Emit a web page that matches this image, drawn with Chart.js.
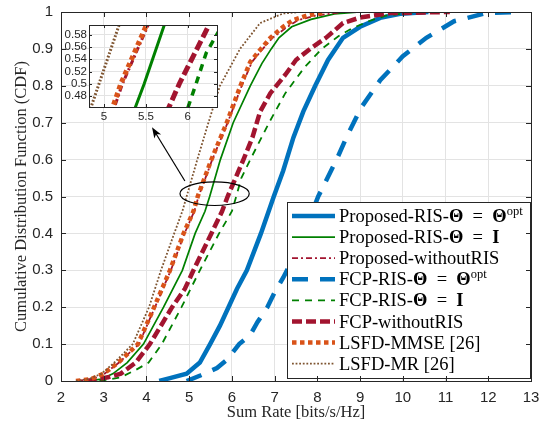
<!DOCTYPE html>
<html>
<head>
<meta charset="utf-8">
<script src="https://cdn.jsdelivr.net/npm/chart.js@4.4.0/dist/chart.umd.min.js"></script>
<style>
  html, body { margin: 0; padding: 0; background: #fff; }
  #wrap { position: relative; width: 541px; height: 426px; }
  #main { position: absolute; left: 0; top: 0; }
  #zoom { position: absolute; left: 55px; top: 19px; }
</style>
</head>
<body>
<div id="wrap">
  <canvas id="main" width="541" height="426" style="width:541px;height:426px"></canvas>
  <canvas id="zoom" width="168" height="105" style="width:168px;height:105px"></canvas>
</div>
<script>
// sum rate [bits/s/Hz] and CDF value of every curve
var rate_prop_opt = [4.3, 4.55, 4.94, 5.25, 5.49, 5.72, 5.92, 6.12, 6.35, 6.68, 6.98, 7.2, 7.44, 7.67, 7.95, 8.25, 8.6, 9.0, 9.47, 9.94, 10.6];
var cdf_prop_opt = [0, 0.008, 0.02, 0.05, 0.1, 0.15, 0.2, 0.25, 0.3, 0.4, 0.5, 0.57, 0.66, 0.73, 0.8, 0.87, 0.93, 0.96, 0.984, 0.995, 1];

var rate_prop_i = [2.6, 2.95, 3.22, 3.55, 3.93, 4.4, 4.84, 5.14, 5.37, 5.48, 5.73, 6.03, 6.43, 6.7, 6.92, 7.1, 7.4, 7.85, 8.4, 9.0];
var cdf_prop_i = [0, 0.005, 0.02, 0.05, 0.1, 0.2, 0.3, 0.4, 0.46, 0.5, 0.6, 0.7, 0.8, 0.86, 0.9, 0.93, 0.96, 0.98, 0.995, 1];

var rate_prop_noris = [2.38, 2.72, 3.02, 3.36, 3.82, 4.2, 4.57, 4.89, 5.12, 5.22, 5.54, 5.9, 6.23, 6.47, 6.72, 6.95, 7.3, 7.55, 7.95, 8.6];
var cdf_prop_noris = [0, 0.005, 0.02, 0.05, 0.1, 0.2, 0.3, 0.4, 0.46, 0.5, 0.6, 0.7, 0.8, 0.865, 0.9, 0.93, 0.96, 0.978, 0.99, 1];

var rate_fcp_opt = [4.94, 5.26, 5.65, 5.88, 6.17, 6.43, 6.6, 6.83, 7.0, 7.2, 7.38, 7.68, 8.02, 8.45, 8.7, 9.02, 9.47, 10.0, 10.55, 11.2, 11.95, 12.7];
var cdf_fcp_opt = [0, 0.015, 0.035, 0.057, 0.1, 0.125, 0.16, 0.2, 0.24, 0.28, 0.32, 0.4, 0.5, 0.6, 0.665, 0.74, 0.815, 0.88, 0.93, 0.975, 0.997, 1];

var rate_fcp_i = [2.9, 3.4, 3.75, 4.05, 4.36, 4.82, 5.25, 5.7, 6.0, 6.1, 6.22, 6.43, 6.87, 7.25, 7.7, 8.1, 8.5, 8.8, 9.2, 9.6, 10.3];
var cdf_fcp_i = [0, 0.01, 0.03, 0.05, 0.1, 0.2, 0.3, 0.4, 0.46, 0.5, 0.55, 0.6, 0.7, 0.78, 0.85, 0.9, 0.935, 0.955, 0.975, 0.99, 1];

var rate_fcp_noris = [2.6, 3.1, 3.4, 3.75, 4.08, 4.6, 4.9, 5.1, 5.52, 5.77, 5.9, 6.27, 6.48, 6.66, 6.9, 7.25, 7.5, 7.83, 8.2, 8.6, 9.0, 9.7, 11.1];
var cdf_fcp_noris = [0, 0.01, 0.02, 0.05, 0.1, 0.2, 0.25, 0.3, 0.4, 0.46, 0.5, 0.6, 0.66, 0.73, 0.78, 0.83, 0.87, 0.9, 0.93, 0.97, 0.985, 0.997, 1];

var rate_lsfd_mmse = [2.35, 2.7, 3.0, 3.34, 3.8, 4.18, 4.55, 4.87, 5.1, 5.2, 5.52, 5.88, 6.2, 6.43, 6.68, 6.9, 7.2, 7.43, 7.75, 8.2];
var cdf_lsfd_mmse = [0, 0.005, 0.02, 0.05, 0.1, 0.2, 0.3, 0.4, 0.46, 0.5, 0.6, 0.7, 0.8, 0.865, 0.9, 0.93, 0.96, 0.978, 0.99, 1];

var rate_lsfd_mr = [2.35, 2.65, 2.95, 3.25, 3.68, 4.06, 4.34, 4.65, 4.84, 4.94, 5.19, 5.45, 5.72, 6.19, 6.66, 7.2, 7.6];
var cdf_lsfd_mr = [0, 0.005, 0.02, 0.05, 0.1, 0.2, 0.3, 0.4, 0.46, 0.5, 0.6, 0.7, 0.8, 0.9, 0.97, 0.996, 1];

var series_names = ['Proposed-RIS-Θ = Θopt', 'Proposed-RIS-Θ = I', 'Proposed-withoutRIS', 'FCP-RIS-Θ = Θopt',
  'FCP-RIS-Θ = I', 'FCP-withoutRIS', 'LSFD-MMSE [26]', 'LSFD-MR [26]'];
// legend text pieces: 0 normal, 1 bold, 2 superscript
var legend_parts = [
  [['Proposed-RIS-', 0], ['Θ', 1], ['\u2002=\u2002', 0], ['Θ', 1], ['opt', 2]],
  [['Proposed-RIS-', 0], ['Θ', 1], ['\u2002=\u2002', 0], ['I', 1]],
  [['Proposed-withoutRIS', 0]],
  [['FCP-RIS-', 0], ['Θ', 1], ['\u2002=\u2002', 0], ['Θ', 1], ['opt', 2]],
  [['FCP-RIS-', 0], ['Θ', 1], ['\u2002=\u2002', 0], ['I', 1]],
  [['FCP-withoutRIS', 0]],
  [['LSFD-MMSE [26]', 0]],
  [['LSFD-MR [26]', 0]]
];

var x_min = 2, x_max = 13, y_min = 0, y_max = 1;
var zoom_x_ticks = [5, 5.5, 6];
var zoom_y_ticks = [0.48, 0.5, 0.52, 0.54, 0.56, 0.58];
var zoom_x_min = 4.82, zoom_x_max = 6.35, zoom_y_min = 0.462, zoom_y_max = 0.596;

var all_rates = [rate_prop_opt, rate_prop_i, rate_prop_noris, rate_fcp_opt, rate_fcp_i, rate_fcp_noris, rate_lsfd_mmse, rate_lsfd_mr];
var all_cdfs = [cdf_prop_opt, cdf_prop_i, cdf_prop_noris, cdf_fcp_opt, cdf_fcp_i, cdf_fcp_noris, cdf_lsfd_mmse, cdf_lsfd_mr];

var line_styles = [
  { color: '#0072BD', width: 4.5, dash: [], zw: 4.5 },
  { color: '#008000', width: 1.7, dash: [], zw: 3 },
  { color: '#A2142F', width: 1.8, dash: [6, 3, 2, 3], zw: 3 },
  { color: '#0072BD', width: 4.5, dash: [16, 12], zw: 4.5 },
  { color: '#008000', width: 1.8, dash: [7, 6], zw: 3.5 },
  { color: '#A2142F', width: 4.5, dash: [10, 4], zw: 5 },
  { color: '#D95319', width: 4.5, dash: [4.5, 3.5], zw: 5 },
  { color: '#7E5430', width: 1.8, dash: [1.8, 1.8], zw: 3 }
];

var axis_color = '#262626';
var grid_color = '#e3e3e3';
var tick_font = { family: 'Liberation Sans, Arial, sans-serif', size: 15 };
var title_font = { family: 'Liberation Serif, Times New Roman, serif', size: 16.5 };
var serif = 'Liberation Serif, Times New Roman, serif';

function make_datasets(zoomed) {
  return all_rates.map(function (rates, i) {
    var st = line_styles[i];
    return {
      label: series_names[i],
      data: rates.map(function (r, k) { return { x: r, y: all_cdfs[i][k] }; }),
      showLine: true,
      borderColor: st.color,
      backgroundColor: st.color,
      borderWidth: zoomed ? st.zw : st.width,
      borderDash: st.dash,
      borderCapStyle: 'butt',
      pointRadius: 0,
      tension: 0,
      fill: false,
      order: -i
    };
  });
}

// keep the plot box at a fixed size: no extra room for end labels
function fit_x(h) {
  return function (s) { s.height = h; s.paddingLeft = 0; s.paddingRight = 0; };
}
function fit_y(w) {
  return function (s) { s.width = w; s.paddingTop = 0; s.paddingBottom = 0; };
}

// box around the axes with inward tick marks on all four sides
var frame_plugin = {
  id: 'frame',
  beforeDraw: function (chart) {
    var a = chart.chartArea, ctx = chart.ctx;
    ctx.save();
    ctx.fillStyle = '#fff';
    ctx.fillRect(a.left, a.top, a.right - a.left, a.bottom - a.top);
    ctx.restore();
  },
  afterDraw: function (chart, args, opts) {
    var ctx = chart.ctx, a = chart.chartArea;
    var sx = chart.scales.x, sy = chart.scales.y, len = opts.len || 5;
    ctx.save();
    ctx.strokeStyle = axis_color;
    ctx.lineWidth = 1;
    ctx.beginPath();
    sx.ticks.forEach(function (t) {
      var p = Math.round(sx.getPixelForValue(t.value)) + 0.5;
      ctx.moveTo(p, a.bottom); ctx.lineTo(p, a.bottom - len);
      ctx.moveTo(p, a.top); ctx.lineTo(p, a.top + len);
    });
    sy.ticks.forEach(function (t) {
      var p = Math.round(sy.getPixelForValue(t.value)) + 0.5;
      ctx.moveTo(a.left, p); ctx.lineTo(a.left + len, p);
      ctx.moveTo(a.right, p); ctx.lineTo(a.right - len, p);
    });
    ctx.stroke();
    ctx.strokeRect(Math.round(a.left) + 0.5, Math.round(a.top) + 0.5,
      Math.round(a.right - a.left), Math.round(a.bottom - a.top));
    ctx.restore();
  }
};

function draw_legend(chart) {
  var ctx = chart.ctx, a = chart.chartArea;
  var w = 243, h = 176;
  var x0 = Math.round(a.right) - w - 1, y0 = Math.round(a.bottom) - h - 3;
  ctx.save();
  ctx.fillStyle = '#fff';
  ctx.fillRect(x0, y0, w, h);
  ctx.strokeStyle = axis_color;
  ctx.lineWidth = 1;
  ctx.strokeRect(x0 + 0.5, y0 + 0.5, w, h);
  chart.data.datasets.forEach(function (ds, i) {
    var cy = y0 + 14 + i * 21.1;
    ctx.strokeStyle = ds.borderColor;
    ctx.lineWidth = ds.borderWidth;
    ctx.setLineDash(ds.borderDash);
    ctx.lineCap = 'butt';
    ctx.beginPath();
    ctx.moveTo(x0 + 5, cy);
    ctx.lineTo(x0 + 48, cy);
    ctx.stroke();
    ctx.setLineDash([]);
    var tx = x0 + 52;
    ctx.fillStyle = '#000';
    ctx.textBaseline = 'alphabetic';
    legend_parts[i].forEach(function (p) {
      var by = cy + 6;
      if (p[1] === 2) {
        ctx.font = '12.5px ' + serif;
        by -= 7;
      } else {
        ctx.font = (p[1] === 1 ? 'bold ' : '') + '18.5px ' + serif;
      }
      ctx.fillText(p[0], tx, by);
      tx += ctx.measureText(p[0]).width;
    });
  });
  ctx.restore();
}

// ellipse around the zoomed part, arrow to the inset, then the legend
var marks_plugin = {
  id: 'marks',
  afterDatasetsDraw: function (chart) {
    var ctx = chart.ctx, sx = chart.scales.x, sy = chart.scales.y;
    var cx = sx.getPixelForValue(5.595), cy = sy.getPixelForValue(0.5076);
    var rx = sx.getPixelForValue(5.595 + 0.81) - cx;
    var ry = cy - sy.getPixelForValue(0.5076 + 0.032);
    ctx.save();
    ctx.strokeStyle = '#000';
    ctx.lineWidth = 1.2;
    ctx.beginPath();
    ctx.ellipse(cx, cy, rx, ry, 0, 0, Math.PI * 2);
    ctx.stroke();

    var x1 = sx.getPixelForValue(4.9), y1 = sy.getPixelForValue(0.542);
    var x2 = sx.getPixelForValue(4.13), y2 = sy.getPixelForValue(0.688);
    var ang = Math.atan2(y2 - y1, x2 - x1);
    ctx.beginPath();
    ctx.moveTo(x1, y1);
    ctx.lineTo(x2 - 8 * Math.cos(ang), y2 - 8 * Math.sin(ang));
    ctx.stroke();
    ctx.fillStyle = '#000';
    ctx.beginPath();
    ctx.moveTo(x2, y2);
    ctx.lineTo(x2 - 11 * Math.cos(ang) + 4 * Math.sin(ang), y2 - 11 * Math.sin(ang) - 4 * Math.cos(ang));
    ctx.lineTo(x2 - 8 * Math.cos(ang), y2 - 8 * Math.sin(ang));
    ctx.lineTo(x2 - 11 * Math.cos(ang) - 4 * Math.sin(ang), y2 - 11 * Math.sin(ang) + 4 * Math.cos(ang));
    ctx.closePath();
    ctx.fill();
    ctx.restore();

    draw_legend(chart);
  }
};

var main_chart = new Chart(document.getElementById('main').getContext('2d'), {
  type: 'scatter',
  data: { datasets: make_datasets(false) },
  options: {
    responsive: false,
    animation: false,
    layout: { autoPadding: false, padding: { left: 0, right: 10, top: 12, bottom: 0 } },
    plugins: { legend: { display: false }, tooltip: { enabled: false }, frame: { len: 5 } },
    scales: {
      x: {
        type: 'linear', min: x_min, max: x_max,
        ticks: { stepSize: 1, color: axis_color, font: tick_font, padding: 8, maxRotation: 0, autoSkip: false },
        grid: { color: grid_color, drawTicks: false },
        border: { display: false },
        title: { display: true, text: 'Sum Rate [bits/s/Hz]', color: axis_color, font: title_font, padding: { top: 0, bottom: 3 } },
        afterFit: fit_x(45)
      },
      y: {
        type: 'linear', min: y_min, max: y_max,
        ticks: {
          stepSize: 0.1, color: axis_color, font: tick_font, padding: 8, autoSkip: false,
          callback: function (v) { return String(+v.toFixed(1)); }
        },
        grid: { color: grid_color, drawTicks: false },
        border: { display: false },
        title: { display: true, text: 'Cumulative Distribution Function (CDF)', color: axis_color, font: title_font, padding: { top: 12, bottom: 0 } },
        afterFit: fit_y(61)
      }
    }
  },
  plugins: [frame_plugin, marks_plugin]
});

var zoom_font = { family: 'Liberation Sans, Arial, sans-serif', size: 11.5 };
var zoom_chart = new Chart(document.getElementById('zoom').getContext('2d'), {
  type: 'scatter',
  data: { datasets: make_datasets(true) },
  options: {
    responsive: false,
    animation: false,
    layout: { autoPadding: false, padding: { left: 0, right: 6, top: 6, bottom: 0 } },
    plugins: { legend: { display: false }, tooltip: { enabled: false }, frame: { len: 3 } },
    scales: {
      x: {
        type: 'linear', min: zoom_x_min, max: zoom_x_max,
        afterBuildTicks: function (s) { s.ticks = zoom_x_ticks.map(function (v) { return { value: v }; }); },
        ticks: { color: axis_color, font: zoom_font, padding: 3, maxRotation: 0, autoSkip: false,
          callback: function (v) { return String(v); } },
        grid: { color: grid_color, drawTicks: false },
        border: { display: false },
        afterFit: fit_x(17)
      },
      y: {
        type: 'linear', min: zoom_y_min, max: zoom_y_max,
        afterBuildTicks: function (s) { s.ticks = zoom_y_ticks.map(function (v) { return { value: v }; }); },
        ticks: { color: axis_color, font: zoom_font, padding: 2, autoSkip: false,
          callback: function (v) { return String(+v.toFixed(2)); } },
        grid: { color: grid_color, drawTicks: false },
        border: { display: false },
        afterFit: fit_y(34)
      }
    }
  },
  plugins: [frame_plugin]
});
</script>
</body>
</html>
